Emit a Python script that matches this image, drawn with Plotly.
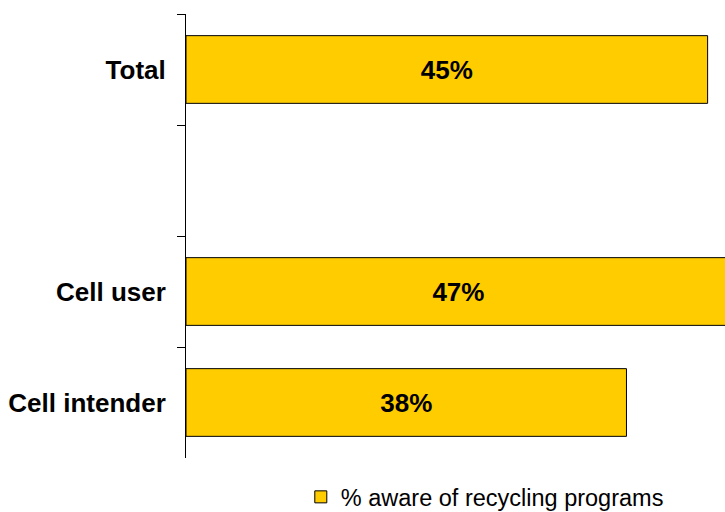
import plotly.graph_objects as go

categories = ["Total", " ", "Cell user", "Cell intender"]
values = [45, None, 47, 38]
labels = ["45%", "", "47%", "38%"]
series_name = "% aware of recycling programs"

fig = go.Figure()

fig.add_trace(
    go.Bar(
        x=values,
        y=categories,
        orientation="h",
        width=0.61,
        name=series_name,
        text=labels,
        textposition="inside",
        insidetextanchor="middle",
        textangle=0,
        textfont=dict(family="Liberation Sans, Arial", size=26, color="black", weight="bold"),
        marker=dict(color="#FFCC00", line=dict(color="black", width=1)),
        showlegend=True,
    )
)

fig.update_layout(
    width=725,
    height=512,
    margin=dict(l=186, r=0, t=14, b=54, autoexpand=False),
    paper_bgcolor="white",
    plot_bgcolor="white",
    font=dict(family="Liberation Sans, Arial", color="black"),
    showlegend=True,
    uniformtext=dict(minsize=8, mode=False),
    legend=dict(
        orientation="h",
        x=0.213,
        xanchor="left",
        y=-0.088,
        yanchor="middle",
        font=dict(size=23.5),
        bgcolor="rgba(0,0,0,0)",
    ),
)

fig.update_xaxes(
    range=[0, 46.5],
    showticklabels=False,
    showgrid=False,
    zeroline=False,
    showline=False,
    ticks="",
)

fig.update_yaxes(
    type="category",
    categoryorder="array",
    categoryarray=categories,
    range=[3.5, -0.5],
    showgrid=False,
    zeroline=False,
    showline=True,
    linecolor="black",
    linewidth=1,
    ticks="outside",
    tickson="boundaries",
    ticklen=8,
    tickcolor="black",
    tickwidth=1,
    ticklabelstandoff=14,
    tickfont=dict(size=26, weight="bold"),
)

# drop the default page margin so the figure sits at the window corner
fig.write_html(
    "out.html",
    config={"displayModeBar": False},
    post_script="document.body.style.margin='0';",
)
